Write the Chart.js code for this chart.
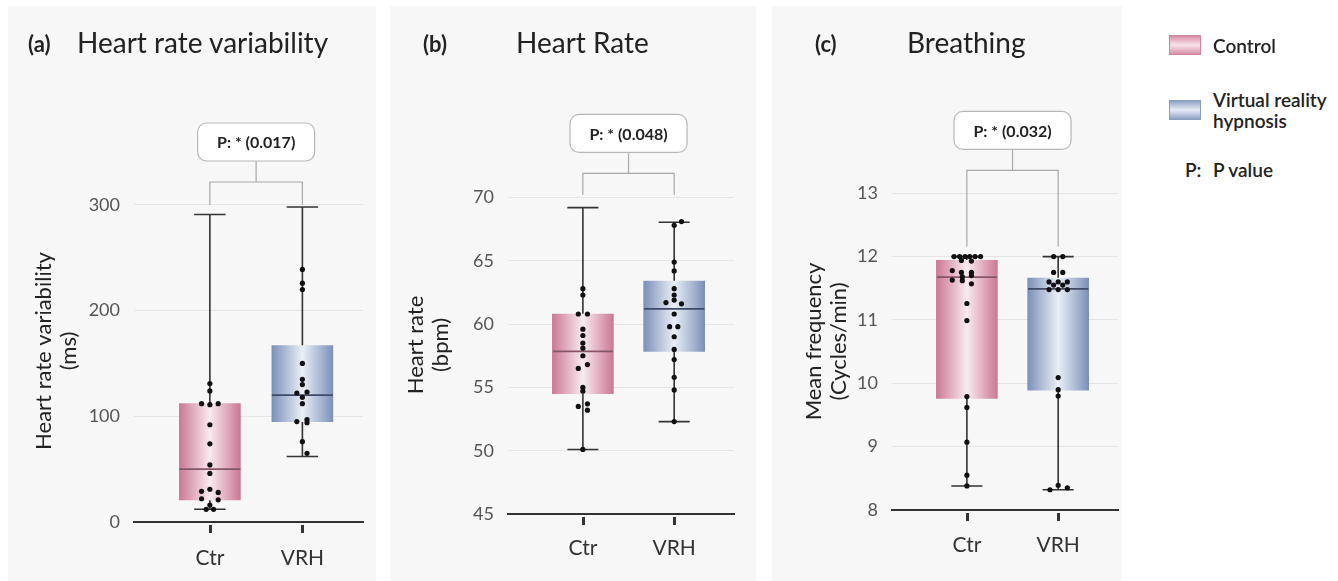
<!DOCTYPE html>
<html lang="en">
<head>
<meta charset="UTF-8">
<title>HRV, heart rate and breathing</title>
<script src="https://cdn.jsdelivr.net/npm/chart.js@4.4.1/dist/chart.umd.min.js"></script>
<style>
    body { margin: 0; width: 1338px; height: 581px; background: #fff; font-family: Lato, sans-serif; color: #222; position: relative; overflow: hidden; }
    .panel { position: absolute; top: 6px; height: 575px; background: #f7f7f7; }
    .panel canvas { position: absolute; left: 0; top: 0; }
    .tag { position: absolute; font-weight: 700; font-size: 22px; line-height: 1; }
    .ttl { position: absolute; font-size: 28px; line-height: 1; }
    .lg { position: absolute; font-size: 19px; font-weight: 600; line-height: 21px; white-space: nowrap; }
    .sw { position: absolute; left: 1169px; width: 32px; height: 20px; box-sizing: border-box; }
</style>
</head>
<body>
    <div class="panel" style="left:8px;width:368px"><canvas id="hrv" width="368" height="575"></canvas></div>
    <div class="panel" style="left:390px;width:366px"><canvas id="hr" width="366" height="575"></canvas></div>
    <div class="panel" style="left:772px;width:350px"><canvas id="br" width="350" height="575"></canvas></div>

    <div class="tag" style="left:28px;top:33px">(a)</div>
    <div class="ttl" style="left:77px;top:28px">Heart rate variability</div>
    <div class="tag" style="left:423px;top:33px">(b)</div>
    <div class="ttl" style="left:516px;top:28px">Heart Rate</div>
    <div class="tag" style="left:815px;top:33px">(c)</div>
    <div class="ttl" style="left:907px;top:28px">Breathing</div>

    <div class="sw" style="top:35px;border:1px solid #cf86a0;background:linear-gradient(to bottom,#d98ea8,#f6e3ea 50%,#d98ea8)"></div>
    <div class="lg" style="left:1213px;top:35px">Control</div>
    <div class="sw" style="top:100px;border:1px solid #8a9cc0;background:linear-gradient(to bottom,#8fa2c6,#e6ebf5 50%,#8fa2c6)"></div>
    <div class="lg" style="left:1213px;top:89px">Virtual reality<br>hypnosis</div>
    <div class="lg" style="left:1185px;top:159px">P:</div>
    <div class="lg" style="left:1213px;top:159px">P value</div>

<script>
    const categories = ['Ctr', 'VRH'];

    // (a) heart rate variability, ms : [min, q1, median, q3, max]
    const hrvCtrBox = [12, 21, 50, 112, 291];
    const hrvVrhBox = [62, 95, 120, 167, 298];
    const hrvCtrPts = [131, 124, 112, 111, 112, 92, 74, 54, 46, 29, 31, 28, 22, 21, 16, 12, 12];
    const hrvCtrJit = [0, 0, -0.09, 0, 0.09, 0, 0, 0, 0, -0.09, 0, 0.09, -0.09, 0.09, 0, -0.04, 0.04];
    const hrvVrhPts = [239, 226, 220, 150, 135, 130, 122, 123, 118, 112, 95, 97, 94, 76, 65];
    const hrvVrhJit = [0, 0, 0, 0, 0, 0, -0.06, 0.05, 0, 0, -0.06, 0.05, 0.05, 0, 0.05];
    const hrvTicks = [0, 100, 200, 300];

    // (b) heart rate, bpm
    const hrCtrBox = [50.1, 54.5, 57.85, 60.8, 69.2];
    const hrVrhBox = [52.3, 57.85, 61.2, 63.4, 68.05];
    const hrCtrPts = [62.8, 62.3, 60.8, 60.8, 59.6, 59.1, 58.5, 58.1, 57.5, 56.5, 56.8, 55.0, 54.7, 53.5, 53.7, 53.2, 50.1];
    const hrCtrJit = [0, 0, -0.05, 0.05, 0, 0, 0, 0, 0, -0.05, 0.05, 0, 0, -0.05, 0.05, 0.05, 0];
    const hrVrhPts = [68.1, 67.8, 64.9, 64.2, 62.8, 62.3, 61.7, 61.9, 61.6, 60.8, 59.8, 59.8, 59.0, 58.0, 57.2, 55.8, 54.8, 52.3];
    const hrVrhJit = [0.08, 0, 0, 0, 0, 0, -0.09, 0, 0.08, 0, -0.05, 0.04, 0, 0, 0, 0, 0, 0];
    const hrTicks = [45, 50, 55, 60, 65, 70];

    // (c) breathing, cycles/min
    const brCtrBox = [8.38, 9.76, 11.675, 11.94, 12.0];
    const brVrhBox = [8.32, 9.89, 11.49, 11.66, 12.0];
    const brCtrPts = [12, 12, 12, 12, 12, 12, 11.94, 11.93, 11.78, 11.75, 11.75, 11.68, 11.7, 11.63, 11.62, 11.57, 11.26, 10.99, 9.79, 9.62, 9.07, 8.55, 8.38];
    const brCtrJit = [-0.14, -0.08, -0.02, 0.03, 0.09, 0.15, -0.06, 0.05, -0.16, -0.06, 0.05, -0.05, 0.05, -0.16, -0.05, 0.05, 0, 0, 0, 0, 0, 0, 0];
    const brVrhPts = [12, 12, 11.75, 11.75, 11.6, 11.6, 11.6, 11.55, 11.55, 11.48, 11.48, 11.48, 10.09, 9.9, 9.8, 8.39, 8.35, 8.32];
    const brVrhJit = [-0.05, 0.05, -0.05, 0.05, -0.1, 0, 0.1, -0.05, 0.05, -0.1, 0, 0.1, 0, 0, 0, 0, 0.1, -0.09];
    const brTicks = [8, 9, 10, 11, 12, 13];

    const pTexts = ['P: * (0.017)', 'P: * (0.048)', 'P: * (0.032)'];

    const edgeCols = ['#cb7694', '#7a8fb7'];
    const midCols = ['#f8ebf0', '#eaeff7'];
    const medCols = ['#85566a', '#3f4b66'];

    // p value bracket + rounded label, drawn through the chart's scales
    const pBracket = {
        id: 'pBracket',
        afterDraw(chart, args, opts) {
            const {ctx, scales: {x, y}} = chart;
            const x0 = x.getPixelForValue(0), x1 = x.getPixelForValue(1), xm = (x0 + x1) / 2;
            const yLeg = y.getPixelForValue(opts.leg), yBar = y.getPixelForValue(opts.bar);
            ctx.save();
            ctx.strokeStyle = '#a9a9a9';
            ctx.lineWidth = 1.2;
            ctx.beginPath();
            ctx.moveTo(x0, yLeg); ctx.lineTo(x0, yBar); ctx.lineTo(x1, yBar); ctx.lineTo(x1, yLeg);
            ctx.moveTo(xm, yBar); ctx.lineTo(xm, yBar - 21);
            ctx.stroke();
            const w = 117, h = 38, bx = xm - w / 2, by = yBar - 21 - h;
            ctx.beginPath();
            ctx.roundRect(bx, by, w, h, 9);
            ctx.fillStyle = '#fff';
            ctx.fill();
            ctx.strokeStyle = '#b8b8b8';
            ctx.stroke();
            ctx.fillStyle = '#222';
            ctx.font = 'bold 16px Lato';
            ctx.textAlign = 'center';
            ctx.textBaseline = 'middle';
            ctx.fillText(opts.text, xm, by + h / 2 + 1);
            ctx.restore();
        }
    };

    // short dark tick marks under the x axis at each category
    const catTicks = {
        id: 'catTicks',
        afterDraw(chart) {
            const {ctx, chartArea, scales: {x}} = chart;
            ctx.save();
            ctx.strokeStyle = '#333';
            ctx.lineWidth = 3;
            ctx.beginPath();
            categories.forEach((c, i) => {
                const px = Math.round(x.getPixelForValue(i)) + 0.5;
                ctx.moveTo(px, chartArea.bottom + 3);
                ctx.lineTo(px, chartArea.bottom + 11);
            });
            ctx.stroke();
            ctx.restore();
        }
    };

    function boxFill(c) {
        const chart = c.chart;
        const i = c.dataIndex;
        if (!chart.chartArea || !c.raw) return edgeCols[i];
        const cx = chart.scales.x.getPixelForValue(c.raw.x);
        const g = chart.ctx.createLinearGradient(cx - 31, 0, cx + 31, 0);
        g.addColorStop(0, edgeCols[i]);
        g.addColorStop(0.5, midCols[i]);
        g.addColorStop(1, edgeCols[i]);
        return g;
    }

    function boxChart(id, o) {
        const boxes = [o.ctrBox, o.vrhBox];
        const pts = [[o.ctrPts, o.ctrJit], [o.vrhPts, o.vrhJit]];
        const datasets = [];

        pts.forEach(([vals, jit], i) => {
            datasets.push({
                type: 'scatter', order: 0,
                data: vals.map((v, k) => ({x: i + jit[k], y: v})),
                pointRadius: 2.6, pointBackgroundColor: '#111', pointBorderWidth: 0
            });
        });
        boxes.forEach((b, i) => {
            datasets.push({
                type: 'line', order: 1, borderColor: medCols[i], borderWidth: 1.8, pointRadius: 0,
                data: [{x: i - 0.33, y: b[2]}, {x: i + 0.33, y: b[2]}]
            });
            datasets.push({
                type: 'line', order: 3, borderColor: '#333', borderWidth: 1.6, pointRadius: 0, spanGaps: false,
                data: [{x: i - 0.17, y: b[4]}, {x: i + 0.17, y: b[4]}, {x: i, y: null},
                       {x: i, y: b[4]}, {x: i, y: b[0]}, {x: i, y: null},
                       {x: i - 0.17, y: b[0]}, {x: i + 0.17, y: b[0]}]
            });
        });
        datasets.push({
            type: 'bar', order: 2, barThickness: 61, borderWidth: 0,
            backgroundColor: boxFill,
            data: boxes.map((b, i) => ({x: i, y: [b[1], b[3]]}))
        });

        return new Chart(document.getElementById(id), {
            type: 'scatter',
            data: {datasets},
            plugins: [pBracket, catTicks],
            options: {
                responsive: false,
                animation: false,
                events: [],
                layout: {padding: {top: o.padTop, right: o.padRight, left: 0, bottom: 0}},
                plugins: {
                    legend: {display: false},
                    tooltip: {enabled: false},
                    pBracket: {text: o.pText, leg: o.leg, bar: o.bar}
                },
                scales: {
                    x: {
                        type: 'linear', min: -0.82, max: 1.655, offset: false,
                        afterBuildTicks: s => { s.ticks = categories.map((c, i) => ({value: i})); },
                        afterFit: s => { s.height = o.xH; },
                        ticks: {
                            callback: v => categories[v],
                            font: {family: 'Lato', size: 21}, color: '#333',
                            padding: o.xPad, maxRotation: 0, autoSkip: false
                        },
                        grid: {display: false},
                        border: {display: true, color: '#333', width: 2}
                    },
                    y: {
                        type: 'linear', min: o.ticks[0], max: o.yMax,
                        afterBuildTicks: s => { s.ticks = o.ticks.map(v => ({value: v})); },
                        afterFit: s => { s.width = o.yW; },
                        ticks: {font: {family: 'Lato', size: 18}, color: '#555', padding: 14},
                        grid: {color: '#e6e6e6', drawTicks: false},
                        border: {display: false},
                        title: {
                            display: true, text: o.yTitle, color: '#222',
                            font: {family: 'Lato', size: 22, lineHeight: '25px'},
                            padding: {top: o.tPad, bottom: 0}
                        }
                    }
                }
            }
        });
    }

    boxChart('hrv', {
        ctrBox: hrvCtrBox, vrhBox: hrvVrhBox, ctrPts: hrvCtrPts, ctrJit: hrvCtrJit, vrhPts: hrvVrhPts, vrhJit: hrvVrhJit,
        ticks: hrvTicks, yMax: 323.6, yTitle: ['Heart rate variability', '(ms)'], pText: pTexts[0], leg: 300, bar: 321.7,
        padTop: 174, padRight: 13, yW: 126, xH: 59, xPad: 16, tPad: 23.5
    });
    boxChart('hr', {
        ctrBox: hrCtrBox, vrhBox: hrVrhBox, ctrPts: hrCtrPts, ctrJit: hrCtrJit, vrhPts: hrVrhPts, vrhJit: hrVrhJit,
        ticks: hrTicks, yMax: 71.7, yTitle: ['Heart rate', '(bpm)'], pText: pTexts[1], leg: 70.2, bar: 71.9,
        padTop: 170, padRight: 22, yW: 118, xH: 67, xPad: 14, tPad: 13
    });
    boxChart('br', {
        ctrBox: brCtrBox, vrhBox: brVrhBox, ctrPts: brCtrPts, ctrJit: brCtrJit, vrhPts: brVrhPts, vrhJit: brVrhJit,
        ticks: brTicks, yMax: 13.32, yTitle: ['Mean frequency', '(Cycles/min)'], pText: pTexts[2], leg: 12.16, bar: 13.36,
        padTop: 167, padRight: 2, yW: 120, xH: 71, xPad: 15, tPad: 29
    });
</script>
</body>
</html>
